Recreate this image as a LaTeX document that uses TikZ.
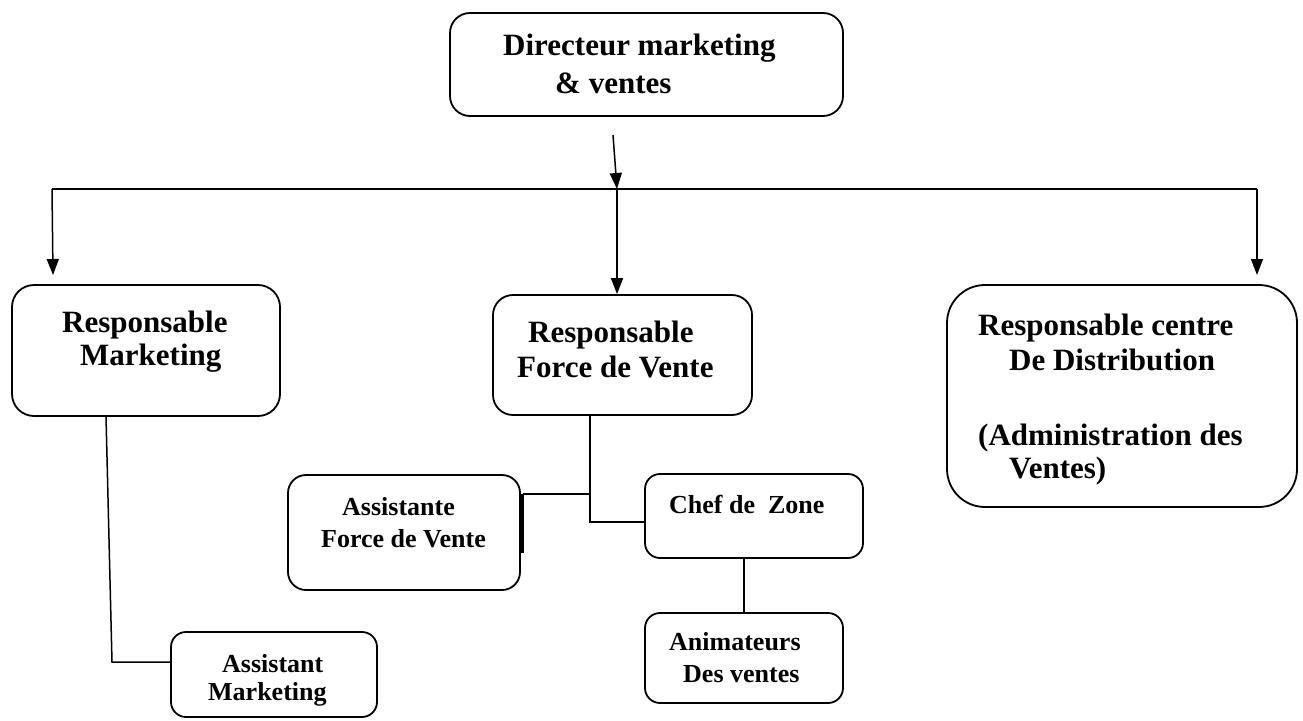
\documentclass[tikz,border=0pt]{standalone}
\usepackage{fontspec}
\setmainfont{Liberation Serif}
\usetikzlibrary{arrows.meta}

\begin{document}
\begin{tikzpicture}[x=1pt, y=-1pt, >={Triangle[length=16pt,width=12pt]},
  box/.style={draw, line width=1.8pt, rounded corners=#1, inner sep=0pt},
  big/.style={font=\fontsize{31}{36}\selectfont\bfseries, inner sep=0pt, anchor=base west},
  small/.style={font=\fontsize{26}{30}\selectfont\bfseries, inner sep=0pt, anchor=base west},
  link/.style={line width=1.5pt}]
\useasboundingbox (0,0) rectangle (1303,720);

% boxes
\node[box=20pt, minimum width=393pt, minimum height=103pt] (dir) at (646.5,64.5) {};
\node[box=22pt, minimum width=268pt, minimum height=131pt] (rm) at (146,350.5) {};
\node[box=20pt, minimum width=259pt, minimum height=120pt] (rfv) at (622.5,355) {};
\node[box=38pt, minimum width=350pt, minimum height=222pt] (rcd) at (1122,396) {};
\node[box=18pt, minimum width=232pt, minimum height=115pt] (afv) at (404,532.5) {};
\node[box=15pt, minimum width=218pt, minimum height=84pt] (chef) at (754,516) {};
\node[box=15pt, minimum width=198pt, minimum height=90pt] (anim) at (744,658) {};
\node[box=15pt, minimum width=206pt, minimum height=85pt] (am) at (274,674.5) {};

% texts
\foreach \x/\y/\t [count=\i] in {503/55/Directeur marketing, 555/93/{\& ventes},
    62/332/Responsable, 80/365/Marketing, 528/342/Responsable, 517/377/Force de Vente,
    978/335/Responsable centre, 1009/370/De Distribution,
    978/445/{(Administration des}, 1009/478/{Ventes)}}
  \node[big] (big\i) at (\x,\y) {\t};
\foreach \x/\y/\t [count=\i] in {342/515/Assistante, 321/547/Force de Vente,
    669/513/{Chef de~ Zone}, 669/650/Animateurs, 683/682/Des ventes,
    222/672/Assistant, 208/700/Marketing}
  \node[small] (small\i) at (\x,\y) {\t};

% arrows
\coordinate (dir-o) at (613,135);
\coordinate (bus-l) at (52,189);
\coordinate (bus-m) at (617,189);
\coordinate (bus-r) at (1257,189);
\coordinate (rm-in) at (53,275);
\coordinate (rcd-in) at (1257,275);
\draw[link,->] (dir-o) -- (bus-m);
\draw[line width=2.8pt] (bus-l) -- (bus-r);
\draw[link,->] (bus-l) -- (rm-in);
\draw[link,->] (bus-m) -- (bus-m |- rfv.north);
\draw[link,->] (bus-r) -- (rcd-in);

% links
\coordinate (rm-b) at (106,416);
\coordinate (am-c) at (112,662);
\draw[link] (rm-b) -- (am-c) -- (am-c -| am.west);
\coordinate (fv-k) at (590,494);
\coordinate (fv-j) at (590,522);
\draw[link] (rfv.south -| fv-j) -- (fv-j) -- (fv-j -| chef.west);
\draw[link] (fv-k) -- ([xshift=2pt]fv-k -| afv.east);
\draw[line width=3pt] ([xshift=2pt]fv-k -| afv.east) -- ++(0,59);
\draw[link] (chef.south -| anim.north) -- (anim.north);

\end{tikzpicture}
\end{document}
